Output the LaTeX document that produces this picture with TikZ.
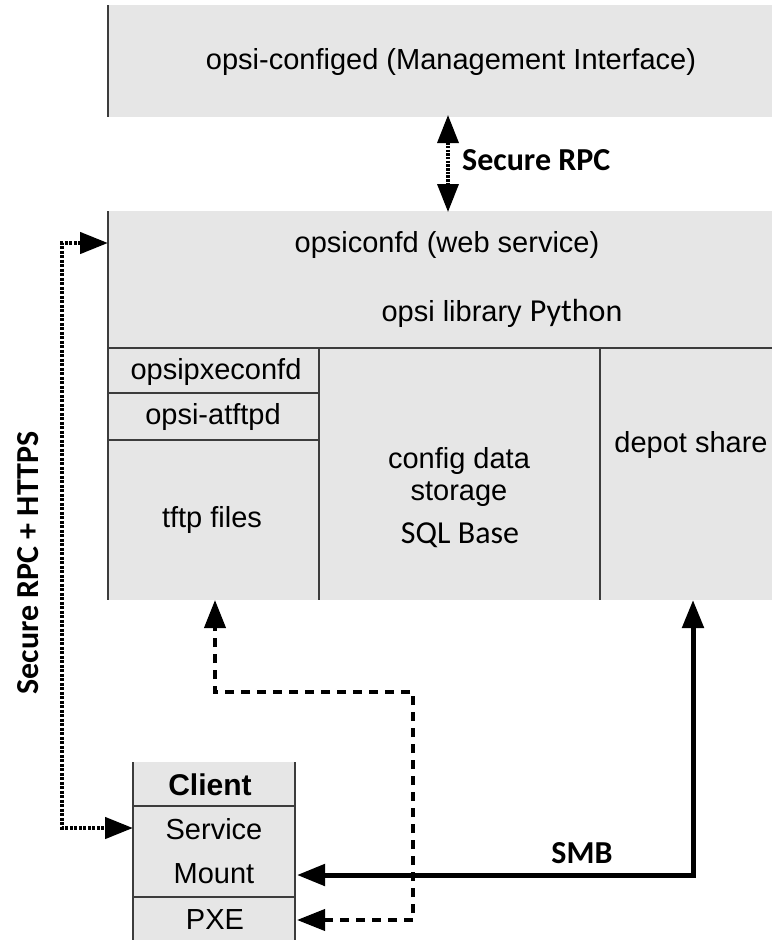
\documentclass[tikz,border=0pt]{standalone}
\usepackage{fontspec}
\setmainfont{Liberation Sans}
\newfontfamily\calib{Carlito}
\usetikzlibrary{arrows.meta}
\definecolor{boxgrey}{HTML}{E6E6E6}
\definecolor{edge}{HTML}{3C3C3C}
\begin{document}
\begin{tikzpicture}[x=1pt,y=-1pt,
  cell/.style={fill=boxgrey, draw=none, inner sep=0pt, outer sep=0pt, anchor=north west},
  txt/.style={inner sep=0pt, font=\fontsize{29}{32}\selectfont, align=center, text=black},
  ctxt/.style={inner sep=0pt, font=\calib\fontsize{32}{36}\selectfont\bfseries, text=black},
  border/.style={draw=edge, line width=2pt},
  bihead/.style={{Triangle[length=28pt,width=21pt]}-{Triangle[length=28pt,width=21pt]}},
  dotline/.style={line width=4.5pt, dash pattern=on 3pt off 1.5pt, bihead},
  rpcline/.style={line width=3.5pt, dash pattern=on 2.5pt off 1.2pt, bihead},
  dashline/.style={line width=4pt, dash pattern=on 9pt off 7pt, bihead},
  solidline/.style={line width=5pt, bihead}
]
\useasboundingbox (0,0) rectangle (772,940);

% ---- top box
\node[cell, minimum width=664pt, minimum height=112pt] (top) at (108,5) {};
\node[txt] (toptxt) at (451,62) {opsi-configed (Management Interface)};
\draw[border] (top.north west) -- (top.south west);

% ---- main box
\node[cell, minimum width=664pt, minimum height=137pt] (upper) at (108,211) {};
\node[cell, minimum width=211pt, minimum height=45pt] (pxed) at (108,348) {};
\node[cell, minimum width=211pt, minimum height=47pt] (atftp) at (108,393) {};
\node[cell, minimum width=211pt, minimum height=160pt] (tftp) at (108,440) {};
\node[cell, minimum width=281pt, minimum height=252pt] (store) at (319,348) {};
\node[cell, minimum width=172pt, minimum height=252pt] (depot) at (600,348) {};

\node[txt] (webtxt) at (447,245) {opsiconfd (web service)};
\node[txt] (libtxt) at (502,313) {opsi library {\calib\fontsize{32}{36}\selectfont Python}};
\node[txt] (pxetxt) at (216,372) {opsipxeconfd};
\node[txt] (atftptxt) at (213,417) {opsi-atftpd};
\node[txt] (tftptxt) at (212,520) {tftp files};
\node[txt] (storetxt) at (459,477) {config data\\storage};
\node[txt] (sqltxt) at (460,535) {\calib\fontsize{32}{36}\selectfont SQL Base};
\node[txt] (depottxt) at (691,445) {depot share};

\draw[border] (upper.north west) -- (tftp.south west);
\draw[border] (upper.south west) -- (upper.south east);
\draw[border] (pxed.south west) -- (pxed.south east);
\draw[border] (atftp.south west) -- (atftp.south east);
\draw[border] (store.north west) -- (store.south west);
\draw[border] (depot.north west) -- (depot.south west);

% ---- client box
\node[cell, minimum width=162pt, minimum height=44pt] (client) at (133,762) {};
\node[cell, minimum width=162pt, minimum height=91pt] (svc) at (133,806) {};
\node[cell, minimum width=162pt, minimum height=43pt] (pxe) at (133,897) {};
\node[txt, font=\fontsize{30}{32}\selectfont\bfseries] (clienttxt) at (210,785) {Client};
\node[txt] (svctxt) at (214,829) {Service};
\node[txt] (mounttxt) at (214,874) {Mount};
\node[txt] (pxeboxtxt) at (215,920) {PXE};
\draw[border] (client.north west) -- (pxe.south west);
\draw[border] (client.north east) -- (pxe.south east);
\draw[border] (client.south west) -- (client.south east);
\draw[border] (svc.south west) -- (svc.south east);

% ---- connector end points
\coordinate (topIn) at (top.south -| 448,0);
\coordinate (upIn) at (upper.north -| 448,0);
\coordinate (mainIn) at (108,243);
\coordinate (cliIn) at (133,828);
\coordinate (depotIn) at (693,600);
\coordinate (mountIn) at (297,875);
\coordinate (pxeIn) at (297,920);
\coordinate (jog) at (413,692);
\coordinate (tftpIn) at (215,600);

% ---- connectors
\draw[rpcline] ([yshift=2pt]topIn) -- ([yshift=-1pt]upIn);
\draw[dotline] (mainIn) -- ++(-46,0) |- (cliIn);
\draw[solidline] (depotIn) |- (mountIn);
\draw[dashline] (pxeIn) -| (jog) -| (tftpIn);

% ---- labels
\node[ctxt, anchor=west] (rpclbl) at (462,160) {Secure RPC};
\node[ctxt, rotate=90] (httpslbl) at (28,563) {Secure RPC + HTTPS};
\node[ctxt] (smblbl) at (582,853) {SMB};
\end{tikzpicture}
\end{document}
